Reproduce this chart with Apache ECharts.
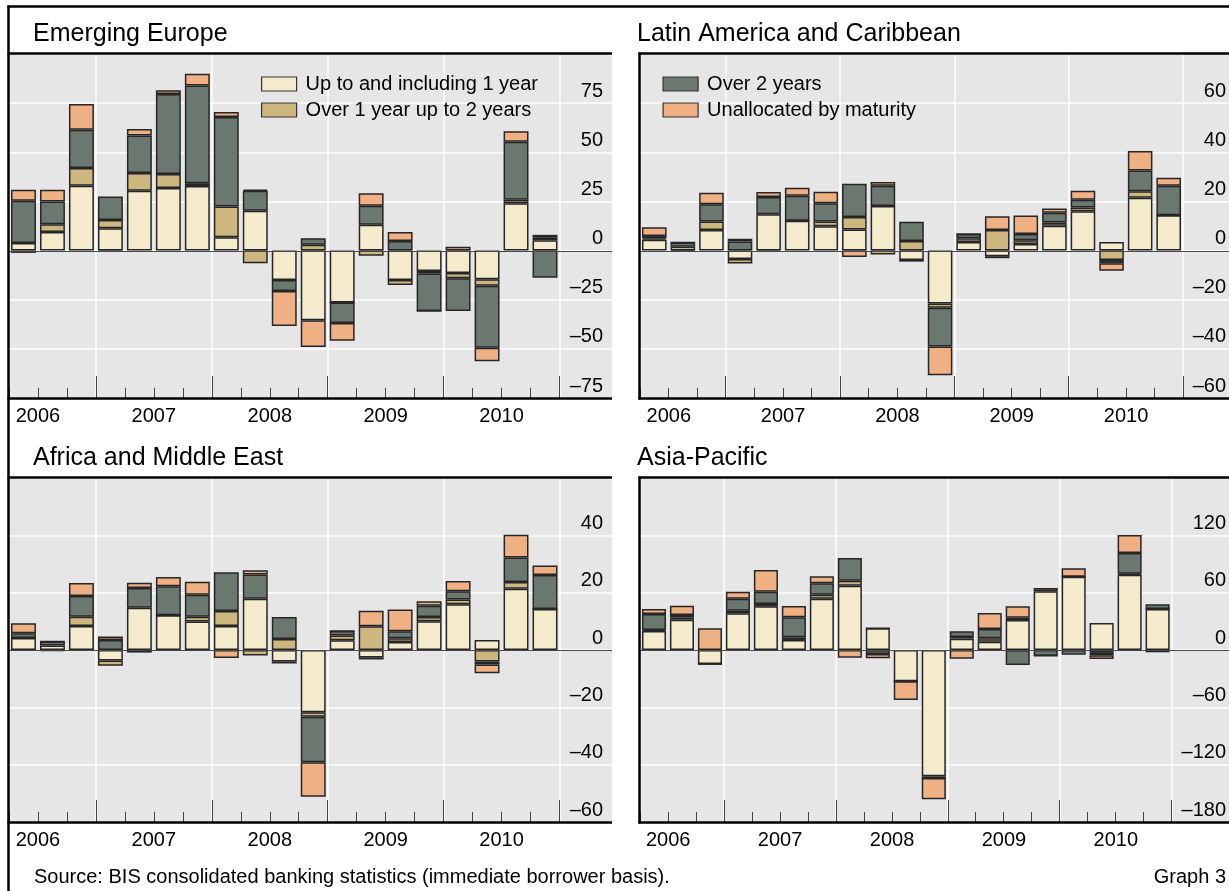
<!DOCTYPE html>
<html>
<head>
<meta charset="utf-8">
<title>Cross-border claims by maturity</title>
<script src="https://cdn.jsdelivr.net/npm/echarts@6/dist/echarts.min.js"></script>
<style>
  html, body { margin: 0; padding: 0; background: #fff; }
  #chart { width: 1229px; height: 891px; }
</style>
</head>
<body>
<div id="chart"></div>
<script>
// quarterly categories, 2006 Q2 .. 2010 Q4
var quarters = ['2006 Q2', '2006 Q3', '2006 Q4',
    '2007 Q1', '2007 Q2', '2007 Q3', '2007 Q4',
    '2008 Q1', '2008 Q2', '2008 Q3', '2008 Q4',
    '2009 Q1', '2009 Q2', '2009 Q3', '2009 Q4',
    '2010 Q1', '2010 Q2', '2010 Q3', '2010 Q4'];
var years = ['2006', '2007', '2008', '2009', '2010'];
var seriesNames = ['Up to and including 1 year', 'Over 1 year up to 2 years', 'Over 2 years', 'Unallocated by maturity'];
var colors = ['#f3ebcb', '#cdb77f', '#6a7870', '#efb083'];

// Emerging Europe
var eeShort   = [3.9, 9.5, 33.0, 11.4, 30.4, 31.8, 32.8, 6.8, 20.2, -15.0, -35.5, -26.4, 13.1, -15.0, -10.4, -11.4, -14.6, 24.1, 5.3];
var eeMid     = [-1.2, 3.9, 9.0, 4.1, 9.0, 7.1, 1.5, 15.6, -6.5, 0, 2.9, 0, -2.6, -2.5, -1.3, -2.7, -3.3, 1.7, 1.5];
var eeLong    = [21.4, 11.6, 19.5, 12.0, 19.2, 40.8, 49.7, 45.6, 10.2, -5.6, 3.4, -10.5, 9.7, 4.9, -19.1, -16.7, -31.6, 29.5, -13.8];
var eeUnalloc = [5.6, 5.9, 13.1, -0.6, 3.3, 1.9, 5.9, 2.5, 0.6, -17.8, -13.5, -9.0, 6.4, 4.5, 0, 1.9, -6.8, 5.4, 1.2];

// Latin America and Caribbean
var laShort   = [4.4, 1.6, 8.4, -3.4, 14.8, 12.1, 9.9, 8.6, 18.1, -3.8, -21.5, 3.5, -2.3, 2.7, 10.1, 16.0, 3.5, 21.5, 14.4];
var laMid     = [0.6, -0.4, 3.4, -1.9, -0.6, 0, 1.9, 5.1, -1.6, 3.9, -1.8, 1.5, 8.4, 1.5, 1.3, 1.5, -3.8, 2.6, 0];
var laLong    = [0.9, 1.7, 7.1, 3.7, 7.0, 10.2, 7.5, 13.5, 8.3, 7.8, -15.7, 1.7, -0.8, 2.5, 4.0, 3.2, -1.4, 8.5, 12.0];
var laUnalloc = [3.6, 0, 4.6, 1.1, 2.0, 3.3, 4.6, -2.6, 1.5, -0.7, -11.7, 0, 5.6, 7.6, 1.7, 3.6, -3.0, 7.9, 3.2];

// Africa and Middle East
var amShort   = [4.2, 1.6, 8.4, -3.7, 14.7, 12.1, 9.9, 8.4, 17.9, -4.0, -21.7, 3.4, -2.6, 2.8, 10.0, 16.0, 3.5, 21.4, 14.3];
var amMid     = [0, -0.3, 3.2, -1.8, -0.9, 0, 1.7, 5.2, -1.9, 3.8, -1.6, 1.7, 8.3, 1.3, 1.5, 1.6, -4.0, 2.3, 0];
var amLong    = [1.6, 1.4, 7.2, 3.5, 6.9, 10.1, 7.7, 13.5, 8.4, 7.7, -15.9, 1.5, -0.7, 2.4, 3.9, 2.9, -1.1, 8.6, 11.9];
var amUnalloc = [3.5, 0, 4.6, 1.2, 1.9, 3.3, 4.5, -2.8, 1.5, -0.7, -12.0, 0, 5.4, 7.6, 1.6, 3.6, -3.0, 7.9, 3.3];

// Asia-Pacific
var apShort   = [20.0, 31.7, -14.6, 38.4, 45.7, 10.5, 53.7, 67.3, 22.7, -32.8, -132.2, 11.9, 8.7, 31.4, 61.4, 76.7, 28.3, 78.8, 42.9];
var apMid     = [1.0, 2.5, 0, 2.8, 2.4, 2.8, 4.2, 5.2, 0, 0, -1.8, 1.7, 3.5, 2.4, 3.5, 0, -3.0, 1.0, 0];
var apLong    = [16.7, 2.4, 0, 12.5, 12.9, 20.9, 11.9, 23.8, -4.2, 0, 0, 5.9, 9.8, -15.7, -5.9, -4.9, -2.5, 21.7, 4.9];
var apUnalloc = [5.2, 9.8, 22.7, 7.3, 22.7, 11.8, 7.3, -8.0, -4.5, -19.5, -22.3, -9.1, 16.7, 11.9, 0, 8.8, -3.8, 18.8, -2.4];

var FONT = '"Liberation Sans", Arial, Helvetica, sans-serif';
var plotH = 344;

var panels = [
    {title: 'Emerging Europe', titleLeft: 33, data: [eeShort, eeMid, eeLong, eeUnalloc],
     min: -75, max: 100, step: 25, left: 9, width: 550.5, top: 54, labelRight: 603, bgRight: 612},
    {title: 'Latin America and Caribbean', titleLeft: 637, data: [laShort, laMid, laLong, laUnalloc],
     min: -60, max: 80, step: 20, left: 640, width: 551, top: 54, labelRight: 1234, bgRight: 1243},
    {title: 'Africa and Middle East', titleLeft: 33, data: [amShort, amMid, amLong, amUnalloc],
     min: -60, max: 60, step: 20, left: 9, width: 550.5, top: 478, labelRight: 603, bgRight: 612},
    {title: 'Asia-Pacific', titleLeft: 637, data: [apShort, apMid, apLong, apUnalloc],
     min: -180, max: 180, step: 60, left: 640, width: 539.6, top: 478, labelRight: 1234, bgRight: 1243}
];

var chart = echarts.init(document.getElementById('chart'));

var option = {
    animation: false,
    backgroundColor: '#fff',
    textStyle: {fontFamily: FONT},
    title: [],
    grid: [],
    xAxis: [],
    yAxis: [],
    series: [],
    legend: [],
    graphic: {elements: []}
};

var gfx = option.graphic.elements;
gfx.push({type: 'line', id: 'frameTop', silent: true, z: 100,
    shape: {x1: 7.5, y1: 6.5, x2: 1229, y2: 6.5}, style: {stroke: '#000', lineWidth: 2.5}});
gfx.push({type: 'line', id: 'frameLeft', silent: true, z: 100,
    shape: {x1: 8.5, y1: 5.5, x2: 8.5, y2: 891}, style: {stroke: '#000', lineWidth: 2.5}});

panels.forEach(function (p, g) {
    var band = p.width / quarters.length;
    var axisRight = p.left + p.width;

    option.title.push({
        text: p.title, left: p.titleLeft, top: p.top - 32, padding: 0,
        textStyle: {fontSize: 25, fontWeight: 'normal', color: '#000', fontFamily: FONT}
    });

    option.grid.push({left: p.left, top: p.top, width: p.width, height: plotH});

    // main category axis: short ticks, year labels, vertical year lines
    option.xAxis.push({
        type: 'category', gridIndex: g, data: quarters, position: 'bottom',
        axisLine: {show: false, onZero: false},
        axisTick: {show: true, inside: true, length: 10, interval: 0,
            lineStyle: {color: '#444', width: 1}},
        axisLabel: {
            interval: function (i) { return i % 4 === 0; },
            formatter: function (v, i) { return years[Math.floor(i / 4)]; },
            margin: 8, fontSize: 20, color: '#000', fontFamily: FONT,
            padding: [0, 0, 0, band]
        },
        splitLine: {show: true, interval: function (i) { return i % 4 === 3; },
            lineStyle: {color: '#fff', width: 1.5}}
    });
    // second axis only for the long year ticks
    option.xAxis.push({
        type: 'category', gridIndex: g, data: quarters, position: 'bottom',
        axisLine: {show: false, onZero: false},
        axisTick: {show: true, inside: true, length: 22,
            interval: function (i) { return i % 4 === 3; },
            lineStyle: {color: '#444', width: 1}},
        axisLabel: {show: false},
        splitLine: {show: false}
    });

    option.yAxis.push({
        type: 'value', gridIndex: g, position: 'right',
        min: p.min, max: p.max, interval: p.step,
        axisLine: {show: false, onZero: false},
        axisTick: {show: true, inside: false, length: p.bgRight - axisRight,
            lineStyle: {color: '#fff', width: 1.5}},
        axisLabel: {
            showMaxLabel: false, margin: p.labelRight - axisRight, align: 'right',
            verticalAlign: 'bottom', padding: [0, 0, 2, 0],
            fontSize: 20, color: '#000', fontFamily: FONT,
            formatter: function (v) { return v < 0 ? '\u2013' + (-v) : String(v); }
        },
        splitLine: {show: true, lineStyle: {color: '#fff', width: 1.5}}
    });

    for (var k = 0; k < 4; k++) {
        option.series.push({
            name: seriesNames[k], type: 'bar',
            xAxisIndex: g * 2, yAxisIndex: g, stack: 'panel' + g,
            data: p.data[k], barWidth: '86%',
            silent: true, emphasis: {disabled: true},
            itemStyle: {color: colors[k], borderColor: '#262626', borderWidth: 1.5}
        });
    }

    gfx.push({type: 'rect', id: 'bg' + g, silent: true, z: -10,
        shape: {x: p.left, y: p.top, width: p.bgRight - p.left, height: plotH},
        style: {fill: '#e6e6e6'}});
    gfx.push({type: 'line', id: 'top' + g, silent: true, z: 100,
        shape: {x1: p.left - 1.5, y1: p.top - 0.5, x2: p.bgRight, y2: p.top - 0.5},
        style: {stroke: '#000', lineWidth: 2.5}});
    gfx.push({type: 'line', id: 'bottom' + g, silent: true, z: 100,
        shape: {x1: p.left - 1.5, y1: p.top + plotH + 0.5, x2: p.bgRight, y2: p.top + plotH + 0.5},
        style: {stroke: '#000', lineWidth: 2.5}});
    if (p.left > 100) {
        gfx.push({type: 'line', id: 'left' + g, silent: true, z: 100,
            shape: {x1: p.left - 0.5, y1: p.top - 1.5, x2: p.left - 0.5, y2: p.top + plotH + 1.5},
            style: {stroke: '#000', lineWidth: 2.5}});
    }
});

option.title.push({
    text: 'Source: BIS consolidated banking statistics (immediate borrower basis).',
    left: 34, top: 867, padding: 0,
    textStyle: {fontSize: 20, fontWeight: 'normal', color: '#000', fontFamily: FONT}
});
option.title.push({
    text: 'Graph 3', right: 3, top: 867, padding: 0,
    textStyle: {fontSize: 20, fontWeight: 'normal', color: '#000', fontFamily: FONT}
});

var legendBase = {
    orient: 'vertical', top: 74, padding: 0, itemWidth: 35, itemHeight: 14, itemGap: 6,
    icon: 'rect', selectedMode: false,
    itemStyle: {borderColor: '#333', borderWidth: 1.2},
    textStyle: {fontSize: 20, color: '#000', fontFamily: FONT, padding: [0, 0, 0, 4]}
};
option.legend.push(Object.assign({}, legendBase, {left: 261, data: [seriesNames[0], seriesNames[1]]}));
option.legend.push(Object.assign({}, legendBase, {left: 662.5, data: [seriesNames[2], seriesNames[3]]}));

chart.setOption(option);

// zero lines across each panel, positioned through the value axes
var zeroLines = panels.map(function (p, g) {
    var y0 = Math.round(chart.convertToPixel({yAxisIndex: g}, 0)) + 0.5;
    return {type: 'line', id: 'zero' + g, silent: true, z: 50,
        shape: {x1: p.left, y1: y0, x2: p.bgRight, y2: y0},
        style: {stroke: '#4a4a4a', lineWidth: 1.2}};
});
chart.setOption({graphic: {elements: zeroLines}});
</script>
</body>
</html>
